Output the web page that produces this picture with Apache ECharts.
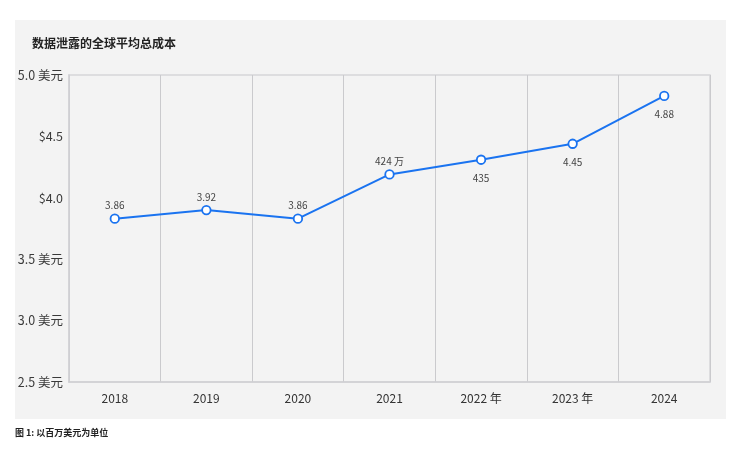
<!DOCTYPE html>
<html><head><meta charset="utf-8">
<script src="https://cdn.jsdelivr.net/npm/echarts@6/dist/echarts.min.js"></script>
<style>html,body{margin:0;padding:0;background:#fff}#c{width:745px;height:449px}</style>
</head><body><div id="c"></div>
<script>
const categories = ['2018','2019','2020','2021','2022 年','2023 年','2024'];
const values = [3.83, 3.90, 3.83, 4.19, 4.31, 4.44, 4.83];
const pointLabels = ['3.86','3.92','3.86','424 万','435','4.45','4.88'];
const labelPositions = ['top','top','top','top','bottom','bottom','bottom'];
const yTickLabels = {'2.5':'2.5 美元','3':'3.0 美元','3.5':'3.5 美元','4':'$4.0','4.5':'$4.5','5':'5.0 美元'};
const titleText = '数据泄露的全球平均总成本';
const footerText = '图 1: 以百万美元为单位';

const FONT = '"Noto Sans CJK SC","Noto Sans",sans-serif';
const chart = echarts.init(document.getElementById('c'), null, {renderer:'canvas'});
chart.setOption({
  backgroundColor:'#ffffff',
  animation:false,
  textStyle:{fontFamily:FONT},
  graphic:[
    {type:'rect', z:-10, shape:{x:15,y:20,width:711,height:399}, style:{fill:'#f3f3f3'}},
    {type:'text', left:15, top:428, style:{text:footerText, font:'bold 9px '+FONT, fill:'#222'}}
  ],
  title:{text:titleText, left:27, top:32, textStyle:{fontFamily:FONT, fontSize:12, fontWeight:'bold', color:'#222'}},
  grid:{left:69, right:35, top:75, bottom:67, show:true, borderColor:'#d6d6d9', borderWidth:1.5, backgroundColor:'transparent'},
  xAxis:{
    type:'category', data:categories, boundaryGap:true,
    axisLine:{show:true, lineStyle:{color:'#d0d0d4', width:1.5}},
    axisTick:{show:false},
    axisLabel:{color:'#333', fontSize:12, margin:10, fontFamily:FONT},
    splitLine:{show:true, lineStyle:{color:'#cacacd', width:1}}
  },
  yAxis:{
    type:'value', min:2.5, max:5, interval:0.5,
    axisLine:{show:true, lineStyle:{color:'#d0d0d4', width:1.5}},
    axisTick:{show:false},
    splitLine:{show:false},
    axisLabel:{color:'#3a3a3a', fontSize:12.5, margin:6, fontFamily:FONT,
      formatter:v=>yTickLabels[String(v)] || String(v)}
  },
  series:[{
    type:'line',
    data:values.map((v,i)=>({value:v, label:{show:true, position:labelPositions[i], distance: labelPositions[i]==='top'?3:8, formatter:pointLabels[i]}})),
    symbol:'circle', symbolSize:8.5,
    lineStyle:{color:'#1a73f0', width:2},
    itemStyle:{color:'#ffffff', borderColor:'#1a73f0', borderWidth:1.8},
    label:{color:'#444', fontSize:10, fontFamily:FONT},
    z:5
  }]
});
</script></body></html>
